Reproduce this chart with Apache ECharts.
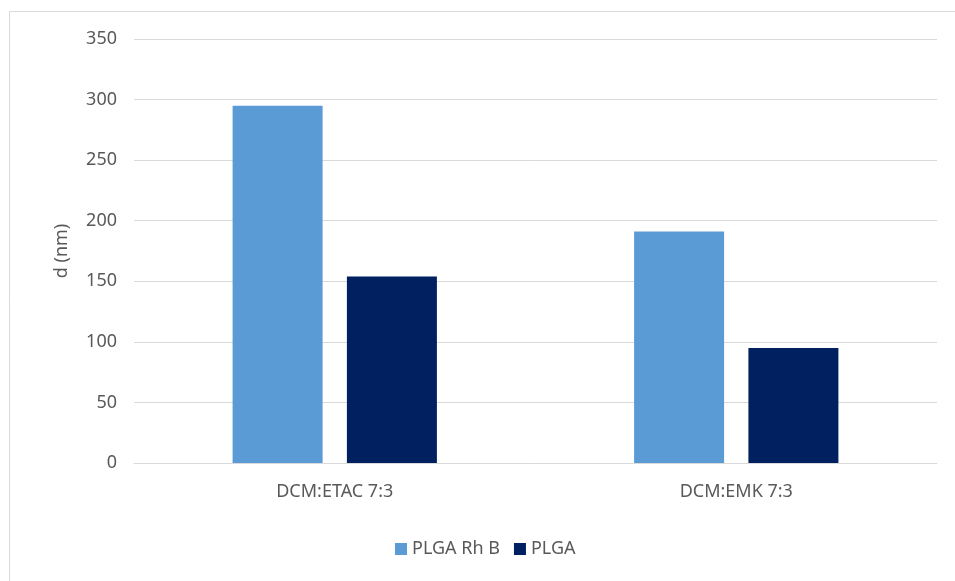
<!DOCTYPE html>
<html>
<head>
<meta charset="utf-8">
<script src="https://cdn.jsdelivr.net/npm/echarts@6/dist/echarts.min.js"></script>
<style>html,body{margin:0;padding:0;background:#fff}#c{width:955px;height:581px}</style>
</head>
<body>
<div id="c"></div>
<script>
var categories = ['DCM:ETAC 7:3', 'DCM:EMK 7:3'];
var plgaRhB = [295, 191];
var plga = [154, 95];
var seriesNames = ['PLGA Rh B', 'PLGA'];
var yAxisTitle = 'd (nm)';

var chart = echarts.init(document.getElementById('c'), null, {renderer: 'canvas'});
var font = 'Noto Sans';
chart.setOption({
  backgroundColor: '#ffffff',
  animation: false,
  graphic: [{
    type: 'rect', left: 7, top: 9, silent: true,
    shape: {width: 960, height: 590},
    style: {fill: 'none', stroke: '#d9d9d9', lineWidth: 1}
  }],
  grid: {left: 134, right: 18, top: 39, bottom: 118},
  legend: {
    data: seriesNames, bottom: 18, left: 390,
    itemWidth: 12, itemHeight: 12, itemGap: 14, icon: 'rect',
    textStyle: {color: '#595959', fontSize: 18, fontFamily: font}
  },
  xAxis: {
    type: 'category', data: categories,
    axisLine: {show: true, lineStyle: {color: '#d9d9d9'}},
    axisTick: {show: false},
    axisLabel: {color: '#595959', fontSize: 18, fontFamily: font, margin: 20}
  },
  yAxis: {
    type: 'value', min: 0, max: 350, interval: 50,
    name: yAxisTitle, nameLocation: 'middle', nameGap: 63,
    nameTextStyle: {color: '#595959', fontSize: 18, fontFamily: font},
    axisLine: {show: false}, axisTick: {show: false},
    axisLabel: {color: '#595959', fontSize: 18, fontFamily: font, margin: 17},
    splitLine: {lineStyle: {color: '#d9d9d9'}}
  },
  series: [
    {name: seriesNames[0], type: 'bar', data: plgaRhB, barWidth: 90, barGap: '27%', itemStyle: {color: '#5b9bd5'}},
    {name: seriesNames[1], type: 'bar', data: plga, barWidth: 90, barGap: '27%', itemStyle: {color: '#002060'}}
  ]
});
</script>
</body>
</html>
